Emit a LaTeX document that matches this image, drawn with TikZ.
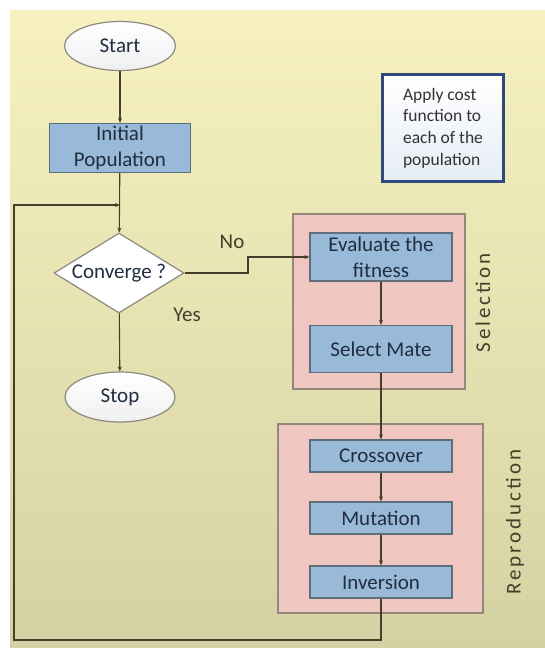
\documentclass[tikz,border=0pt]{standalone}
\usepackage{fontspec}
\setmainfont{Carlito}
\newfontfamily\spacedfont[LetterSpace=14]{Carlito}
\usetikzlibrary{arrows.meta,positioning,shapes.geometric}
\definecolor{bgtop}{RGB}{247,241,192}
\definecolor{bgbot}{RGB}{212,210,164}
\definecolor{grpfill}{RGB}{240,198,192}
\definecolor{grpline}{RGB}{150,135,125}
\definecolor{boxfill}{RGB}{152,186,216}
\definecolor{boxline}{RGB}{95,110,125}
\definecolor{boxtext}{RGB}{32,45,64}
\definecolor{flowline}{RGB}{70,62,40}
\definecolor{noteline}{RGB}{44,74,124}
\definecolor{notefill}{RGB}{230,237,246}
\definecolor{notetext}{RGB}{50,50,50}
\definecolor{termline}{RGB}{140,138,125}

\begin{document}
\begin{tikzpicture}[x=1pt, y=-1pt,
  font=\fontsize{21}{26}\selectfont,
  terminal/.style={draw=termline, line width=1.2pt, ellipse, top color=white, bottom color=gray!12, minimum width=111pt, minimum height=49pt, inner sep=0pt, text=boxtext},
  process/.style={draw=boxline, line width=1.2pt, fill=boxfill, minimum width=142pt, inner sep=0pt, align=center, text=boxtext},
  decision/.style={draw=termline, line width=1.2pt, diamond, aspect=1.625, fill=white, minimum width=130pt, minimum height=80pt, inner sep=0pt, text=boxtext},
  note/.style={draw=noteline, line width=3pt, top color=white, bottom color=notefill, minimum width=121pt, minimum height=107pt, align=left, text=notetext, font=\fontsize{17.5}{21.7}\selectfont},
  group/.style={draw=grpline, line width=1.2pt, fill=grpfill},
  grouplabel/.style={rotate=90, text=flowline, font=\spacedfont\fontsize{21}{26}\selectfont},
  flow/.style={draw=flowline, line width=1.1pt, -{Stealth[length=5pt,width=4pt]}}
]
\useasboundingbox (0,0) rectangle (545,648);
\fill[top color=bgtop, bottom color=bgbot] (10,10) rectangle (545,648);

% Groups
\node[group, minimum width=172pt, minimum height=175pt] (selgrp) at (379,301.5) {};
\node[group, minimum width=205pt, minimum height=189pt] (repgrp) at (380.5,518.5) {};
\node[grouplabel] (sellabel) at (483,303) {Selection};
\node[grouplabel] (replabel) at (515,522) {Reproduction};

% Main flow
\node[terminal] (start) at (120,46) {Start};
\node[process, minimum width=141pt, minimum height=49pt] (init) at (120,148) {Initial\\Population};
\node[decision] (dec) at (119,273) {Converge ?};
\node[terminal, minimum width=110pt, minimum height=50pt] (stop) at (120,397) {Stop};

\node[process, minimum height=48pt] (eval) at (381,257) {Evaluate the\\fitness};
\node[process, minimum height=47pt] (mate) at (381,349) {Select Mate};
\node[process, minimum height=32pt] (cross) at (381,456) {Crossover};
\node[process, minimum height=32pt] (mut) at (381,518) {Mutation};
\node[process, minimum height=32pt] (inv) at (381,582) {Inversion};

\node[note] (cost) at (443,128) {Apply cost\\function to\\each of the\\population};

\node[text=flowline] (no) at (232,242) {No};
\node[text=flowline] (yes) at (187,315) {Yes};

\coordinate (nobend) at (248,273);
\coordinate (loopcorner) at (14,640);
\coordinate (merge) at (120,205);

% Connectors
\draw[flow] (start) -- (init);
\draw[flow] (init) -- (dec);
\draw[flow] (dec) -- (stop);
\draw[flow] (dec.east) -- (nobend) |- (eval.west);
\draw[flow] (eval) -- (mate);
\draw[flow] (mate) -- (cross);
\draw[flow] (cross) -- (mut);
\draw[flow] (mut) -- (inv);
\draw[flow] (inv.south) |- (loopcorner) |- (merge);
\end{tikzpicture}
\end{document}
